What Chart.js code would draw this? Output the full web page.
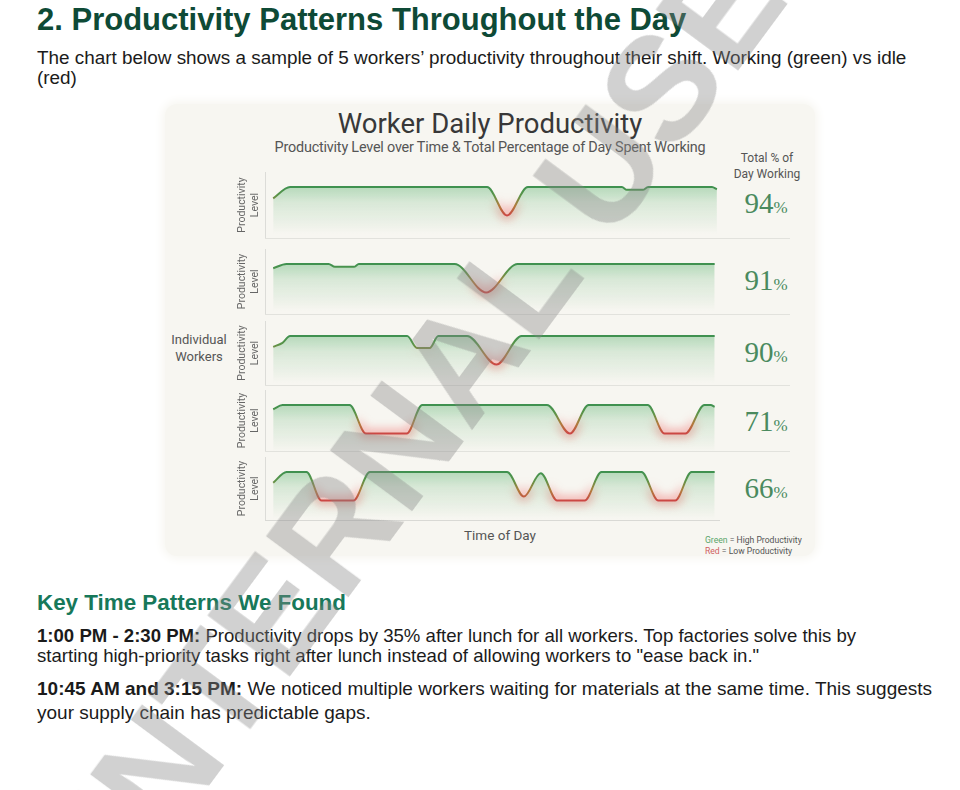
<!DOCTYPE html>
<html>
<head>
<meta charset="utf-8">
<script src="https://cdn.jsdelivr.net/npm/chart.js@4.4.1/dist/chart.umd.min.js"></script>
<style>
	html, body { margin: 0; padding: 0; background: #fff; }
	body {
		width: 960px; height: 790px; position: relative; overflow: hidden;
		font-family: "Liberation Sans", Arial, sans-serif; color: #1b1b1b;
	}
	.abs { position: absolute; white-space: nowrap; }
	.heading { left: 37px; top: 2px; font-size: 31px; line-height: 36px; font-weight: bold; color: #0e4a36; }
	.intro { left: 37px; top: 48px; font-size: 18.9px; line-height: 20px; }
	.sub { left: 37px; top: 590px; font-size: 22.4px; line-height: 26px; font-weight: bold; color: #17785a; }
	.p1 { left: 37px; top: 626px; font-size: 18.6px; line-height: 20px; }
	.p2 { left: 37px; top: 677px; font-size: 19px; line-height: 24px; }
	.panel {
		left: 165px; top: 104px; width: 650px; height: 452px;
		background: #f7f6f1; border-radius: 12px; box-shadow: 0 0 10px 3px #f7f6f1;
	}
	.c-title { left: 165px; width: 650px; top: 108px; text-align: center; font-family: Roboto, sans-serif; font-size: 27.5px; line-height: 32px; color: #383838; }
	.c-sub { left: 165px; width: 650px; top: 140px; text-align: center; font-family: Roboto, sans-serif; font-size: 14.4px; line-height: 16px; color: #555; letter-spacing: -0.2px; }
	.c-side { font-family: Roboto, sans-serif; color: #555; text-align: center; }
	.pct { left: 730px; width: 72px; text-align: center; font-family: "Liberation Serif", serif; font-size: 29px; line-height: 29px; color: #4a8a5e; }
	.pct small { font-size: 17px; }
	.sep { left: 265px; width: 525px; height: 1px; background: #e2e2dd; }
	.legend { left: 705px; top: 535px; font-family: Roboto, sans-serif; font-size: 8.6px; line-height: 10.5px; color: #555; }
	canvas.row { position: absolute; left: 232px; }
	.mark {
		left: 556px; top: 231px; transform: translate(-50%, -50%) rotate(-53.5deg);
		font-family: "Liberation Sans", Arial, sans-serif; font-weight: bold; font-size: 148px; line-height: 1;
		color: rgba(135, 135, 135, 0.38); z-index: 10; pointer-events: none;
	}
</style>
</head>
<body>
<div class="abs heading">2. Productivity Patterns Throughout the Day</div>
<div class="abs intro">The chart below shows a sample of 5 workers’ productivity throughout their shift. Working (green) vs idle<br>(red)</div>

<div class="abs panel"></div>
<div class="abs c-title">Worker Daily Productivity</div>
<div class="abs c-sub">Productivity Level over Time &amp; Total Percentage of Day Spent Working</div>
<div class="abs c-side" style="left:727px;width:80px;top:150px;font-size:12px;line-height:16px;">Total % of<br>Day Working</div>
<div class="abs c-side" style="left:160px;width:78px;top:331px;font-size:13px;line-height:17px;">Individual<br>Workers</div>
<div class="abs c-side" style="left:440px;width:120px;top:526px;font-size:13.5px;line-height:18px;">Time of Day</div>
<div class="abs legend"><span style="color:#5aa56a">Green</span> = High Productivity<br><span style="color:#d06060">Red</span> = Low Productivity</div>
<div id="rows"></div>

<div class="abs sub">Key Time Patterns We Found</div>
<div class="abs p1"><b>1:00 PM - 2:30 PM:</b> Productivity drops by 35% after lunch for all workers. Top factories solve this by<br>starting high-priority tasks right after lunch instead of allowing workers to "ease back in."</div>
<div class="abs p2"><b>10:45 AM and 3:15 PM:</b> We noticed multiple workers waiting for materials at the same time. This suggests<br>your supply chain has predictable gaps.</div>

<div class="abs mark">INTERNAL USE ONLY</div>

<script>
// share of the shift (0-100) and productivity level (1 = working, 0 = idle)
const totals = [94, 91, 90, 71, 66];

const w1Time = [0, 3.8, 48.2, 52.7, 57.4, 78.6, 79.7, 83.3, 84.5, 98.9, 100];
const w1Level = [0.6, 1, 1, 0, 1, 1, 0.9, 0.9, 1, 1, 0.92];

const w2Time = [0, 3.0, 12.5, 13.9, 18.2, 19.3, 40.9, 48.0, 55.1, 99.5];
const w2Level = [0.85, 1, 1, 0.9, 0.9, 1, 1, 0, 1, 1];

const w3Time = [0, 2.1, 3.8, 30.2, 32.4, 35.3, 37.2, 43.7, 50.3, 56.0, 99.5];
const w3Level = [0.62, 0.76, 1, 1, 0.58, 0.58, 1, 1, 0, 1, 1];

const w4Time = [0, 2.1, 17.2, 20.9, 30.1, 33.6, 61.7, 66.9, 71.1, 84.4, 88.2, 92.9, 97.2, 98.6, 99.5];
const w4Level = [0.85, 1, 1, 0, 0, 1, 1, 0, 1, 1, 0, 0, 1, 1, 0.94];

const w5Time = [0, 3.0, 7.5, 10.9, 18.1, 21.8, 52.7, 56.5, 60.3, 64.0, 70.2, 74.0, 83.0, 86.8, 90.6, 94.3, 99.5];
const w5Level = [0.62, 1, 1, 0, 0, 1, 1, 0.14, 0.96, 0, 0, 1, 1, 0, 0, 1, 1];

const times = [w1Time, w2Time, w3Time, w4Time, w5Time];
const levels = [w1Level, w2Level, w3Level, w4Level, w5Level];

// layout: pixel row of the "working" line and the rule under each row
const rowHigh = [187, 264, 336, 405, 472];
const rowBottom = [238, 314, 385, 451, 520];
const pxPerUnit = 28.5;
const padTop = 15;

const pair = (xs, ys) => xs.map((x, i) => ({ x, y: ys[i] }));

const gradient = (chart, from, to, stops) => {
	const { ctx, scales } = chart;
	const g = ctx.createLinearGradient(0, scales.y.getPixelForValue(from), 0, scales.y.getPixelForValue(to));
	stops.forEach(([at, c]) => g.addColorStop(at, c));
	return g;
};

const lineColor = ctx => {
	if (!ctx.chart.chartArea) return "#3f9150";
	return gradient(ctx.chart, 1, 0, [
		[0, "#3f9150"], [0.3, "#5c9448"], [0.65, "#b07c3c"], [1, "#cc4744"],
	]);
};

const fillColor = ctx => {
	if (!ctx.chart.chartArea) return "rgba(96,180,115,0.3)";
	return gradient(ctx.chart, 1.05, -0.65, [
		[0, "rgba(96,180,115,0.45)"], [0.35, "rgba(96,180,115,0.2)"], [1, "rgba(96,180,115,0)"],
	]);
};

const glowColor = ctx => {
	if (!ctx.chart.chartArea) return "rgba(0,0,0,0)";
	return gradient(ctx.chart, 0.6, -0.1, [
		[0, "rgba(238,90,90,0)"], [0.65, "rgba(238,90,90,0.4)"], [1, "rgba(238,90,90,0.4)"],
	]);
};

const glowBlur = {
	id: "glowBlur",
	beforeDatasetDraw(chart, args) {
		if (chart.data.datasets[args.index].glow) {
			chart.ctx.save();
			chart.ctx.filter = "blur(4px)";
		}
	},
	afterDatasetDraw(chart, args) {
		if (chart.data.datasets[args.index].glow) chart.ctx.restore();
	},
};

const rows = document.getElementById("rows");

times.forEach((t, i) => {
	const depth = rowBottom[i] - rowHigh[i];
	const canvas = document.createElement("canvas");
	canvas.className = "row";
	canvas.width = 488;
	canvas.height = depth + padTop;
	canvas.style.top = rowHigh[i] - padTop + "px";
	rows.appendChild(canvas);

	const rule = document.createElement("div");
	rule.className = "abs sep";
	rule.style.top = rowBottom[i] + "px";
	if (i === times.length - 1) {
		rule.style.width = "455px";
		rule.style.background = "#d9d9d5";
	}
	rows.appendChild(rule);

	const pct = document.createElement("div");
	pct.className = "abs pct";
	pct.style.top = rowHigh[i] + 2 + "px";
	pct.innerHTML = `${totals[i]}<small>%</small>`;
	rows.appendChild(pct);

	const points = pair(t, levels[i]);

	new Chart(canvas, {
		type: "line",
		plugins: [glowBlur],
		data: {
			datasets: [
				{
					label: `Worker ${i + 1}`,
					data: points,
					borderColor: lineColor,
					backgroundColor: fillColor,
					fill: "start",
					borderWidth: 2,
					pointRadius: 0,
					cubicInterpolationMode: "monotone",
					order: 0,
				},
				{
					label: "idle glow",
					glow: true,
					data: points,
					borderColor: glowColor,
					borderWidth: 10,
					fill: false,
					pointRadius: 0,
					cubicInterpolationMode: "monotone",
					order: 1,
				},
			],
		},
		options: {
			responsive: false,
			animation: false,
			events: [],
			layout: { padding: 0 },
			plugins: { legend: { display: false }, tooltip: { enabled: false } },
			scales: {
				x: { type: "linear", min: -1.8, max: 100.7, display: false },
				y: {
					min: 1 - depth / pxPerUnit,
					max: 1 + padTop / pxPerUnit,
					ticks: { display: false },
					grid: { display: false, drawTicks: false },
					border: { display: true, color: "#dcdcd8" },
					title: {
						display: true,
						text: ["Productivity", "Level"],
						color: "#666",
						font: { family: "Roboto", size: 10.5 },
						padding: { top: 4, bottom: 4 },
					},
				},
			},
		},
	});
});
</script>
</body>
</html>
